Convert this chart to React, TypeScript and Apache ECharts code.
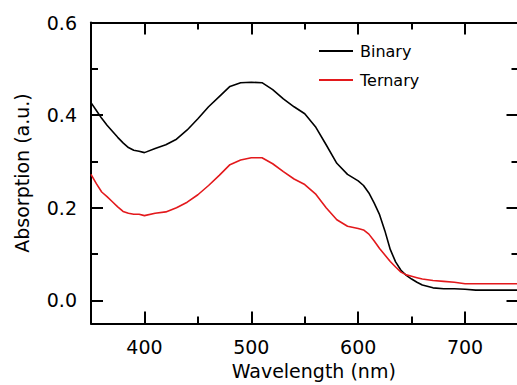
import React, { useEffect, useRef } from "react";
import * as echarts from "echarts";

const wavelengths = [
  350, 355, 360, 365, 370, 375, 380, 385, 390, 395, 400, 410, 420, 430, 440, 450, 460, 470, 480, 490,
  500, 510, 520, 530, 540, 550, 560, 570, 580, 590, 600, 605, 610, 615, 620, 625, 630, 635, 640, 645,
  650, 655, 660, 670, 680, 690, 700, 710, 720, 730, 740, 750,
];

const binary = [
  0.427, 0.41, 0.393, 0.378, 0.365, 0.352, 0.34, 0.33, 0.324, 0.322, 0.319, 0.328, 0.336, 0.348, 0.368,
  0.392, 0.418, 0.44, 0.462, 0.47, 0.471, 0.47, 0.455, 0.435, 0.418, 0.403, 0.375, 0.336, 0.296, 0.272,
  0.258, 0.248, 0.232, 0.21, 0.185, 0.15, 0.11, 0.083, 0.065, 0.054, 0.046, 0.039, 0.033, 0.027, 0.025,
  0.025, 0.024, 0.022, 0.022, 0.022, 0.022, 0.022,
];

const ternary = [
  0.272, 0.252, 0.234, 0.224, 0.213, 0.202, 0.192, 0.188, 0.186, 0.186, 0.183, 0.188, 0.191, 0.2, 0.212,
  0.228, 0.248, 0.27, 0.293, 0.303, 0.308, 0.308, 0.295, 0.278, 0.262, 0.25, 0.23, 0.2, 0.174, 0.16,
  0.155, 0.152, 0.143, 0.128, 0.112, 0.098, 0.084, 0.072, 0.061, 0.055, 0.052, 0.049, 0.046, 0.043,
  0.041, 0.039, 0.036, 0.036, 0.036, 0.036, 0.036, 0.036,
];

const seriesNames = ["Binary", "Ternary"];
const xMajorTicks = [400, 500, 600, 700];
const xMinorTicks = [450, 550, 650];
const yMajorTicks = [0, 0.2, 0.4, 0.6];
const yMinorTicks = [0.1, 0.3, 0.5];

const FONT = "DejaVu Sans";
const AXIS_COLOR = "#000";
const RED = "#e3191c";

function xAxisDef(position: "top" | "bottom", major: boolean, labels: boolean) {
  return {
    type: "value",
    position,
    min: 350,
    max: 750,
    name: labels ? "Wavelength (nm)" : "",
    nameLocation: "middle",
    nameGap: 28,
    nameTextStyle: { fontFamily: FONT, fontSize: 19, color: "#000", padding: [0, 0, 0, 18] },
    axisLine: { show: major, onZero: false, lineStyle: { color: AXIS_COLOR, width: 2 } },
    axisTick: {
      show: true,
      inside: true,
      length: major ? 12 : 7,
      customValues: major ? xMajorTicks : xMinorTicks,
      lineStyle: { color: AXIS_COLOR, width: 2 },
    },
    axisLabel: {
      show: labels,
      customValues: xMajorTicks,
      margin: 14,
      fontFamily: FONT,
      fontSize: 19,
      color: "#000",
    },
    splitLine: { show: false },
  };
}

function yAxisDef(position: "left" | "right", major: boolean, labels: boolean) {
  return {
    type: "value",
    position,
    min: -0.05,
    max: 0.6,
    name: labels ? "Absorption (a.u.)" : "",
    nameLocation: "middle",
    nameGap: 60,
    nameTextStyle: { fontFamily: FONT, fontSize: 19, color: "#000" },
    axisLine: { show: major, onZero: false, lineStyle: { color: AXIS_COLOR, width: 2 } },
    axisTick: {
      show: true,
      inside: true,
      length: major ? 12 : 7,
      customValues: major ? yMajorTicks : yMinorTicks,
      lineStyle: { color: AXIS_COLOR, width: 2 },
    },
    axisLabel: {
      show: labels,
      customValues: yMajorTicks,
      margin: 14,
      fontFamily: FONT,
      fontSize: 19,
      color: "#000",
      formatter: (v: number) => v.toFixed(1),
    },
    splitLine: { show: false },
  };
}

export default function App() {
  const ref = useRef<HTMLDivElement>(null);

  useEffect(() => {
    if (!ref.current) return;
    const chart = echarts.init(ref.current, undefined, { renderer: "svg" });
    chart.setOption({
      animation: false,
      backgroundColor: "#fff",
      grid: { left: 91, right: 11.5, top: 22.5, bottom: 61.5, containLabel: false, outerBoundsMode: "none" },
      legend: {
        data: [
          { name: seriesNames[0], icon: "rect", itemStyle: { color: "#000" } },
          { name: seriesNames[1], icon: "rect", itemStyle: { color: RED } },
        ],
        orient: "vertical",
        left: 319,
        top: 43,
        padding: 0,
        itemWidth: 34,
        itemHeight: 2,
        itemGap: 13,
        textStyle: { fontFamily: FONT, fontSize: 16, color: "#000", lineHeight: 14, padding: [0, 0, 0, 2] },
      },
      xAxis: [
        xAxisDef("bottom", true, true),
        xAxisDef("bottom", false, false),
        xAxisDef("top", true, false),
        xAxisDef("top", false, false),
      ],
      yAxis: [
        yAxisDef("left", true, true),
        yAxisDef("left", false, false),
        yAxisDef("right", true, false),
        yAxisDef("right", false, false),
      ],
      series: [
        {
          name: seriesNames[0],
          type: "line",
          xAxisIndex: 0,
          yAxisIndex: 0,
          symbol: "none",
          data: wavelengths.map((w, i) => [w, binary[i]]),
          lineStyle: { color: "#000", width: 1.6 },
          itemStyle: { color: "#000" },
        },
        {
          name: seriesNames[1],
          type: "line",
          xAxisIndex: 0,
          yAxisIndex: 0,
          symbol: "none",
          data: wavelengths.map((w, i) => [w, ternary[i]]),
          lineStyle: { color: RED, width: 1.6 },
          itemStyle: { color: RED },
        },
      ],
    });
    return () => chart.dispose();
  }, []);

  return (
    <div style={{ position: "fixed", left: 0, top: 0, width: 517, height: 385, overflow: "hidden", background: "#fff" }}>
      <div ref={ref} style={{ width: 530, height: 385 }} />
    </div>
  );
}
